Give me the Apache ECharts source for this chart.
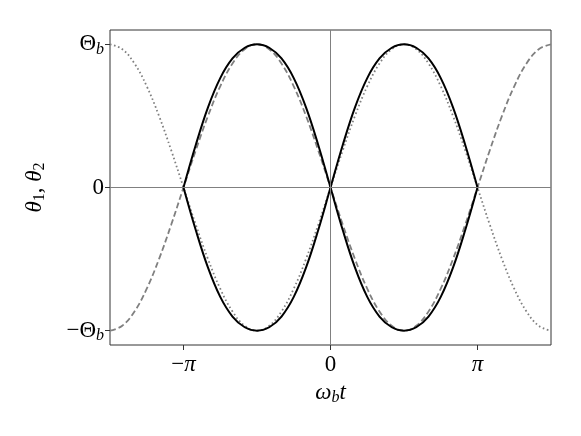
<!DOCTYPE html>
<html>
<head>
<meta charset="utf-8">
<script src="https://cdn.jsdelivr.net/npm/echarts@6/dist/echarts.min.js"></script>
<style>
  html, body { margin: 0; padding: 0; background: #fff; }
  #chart { width: 581px; height: 436px; }
</style>
</head>
<body>
<div id="chart"></div>
<script>
// phase in degrees, -3pi/2 .. 3pi/2, step pi/12
var phaseFull = [-270, -255, -240, -225, -210, -195, -180, -165, -150, -135, -120, -105, -90,
  -75, -60, -45, -30, -15, 0, 15, 30, 45, 60, 75, 90, 105, 120, 135, 150, 165, 180,
  195, 210, 225, 240, 255, 270];
// phase in degrees, -pi .. pi
var phaseInner = [-180, -165, -150, -135, -120, -105, -90, -75, -60, -45, -30, -15, 0,
  15, 30, 45, 60, 75, 90, 105, 120, 135, 150, 165, 180];

// grey dashed curve (in units of Theta_b)
var dashedVals = [-1, -0.966, -0.866, -0.707, -0.5, -0.259, 0, 0.259, 0.5, 0.707, 0.866, 0.966, 1,
  0.966, 0.866, 0.707, 0.5, 0.259, 0, -0.259, -0.5, -0.707, -0.866, -0.966, -1,
  -0.966, -0.866, -0.707, -0.5, -0.259, 0, 0.259, 0.5, 0.707, 0.866, 0.966, 1];
// grey dotted curve
var dottedVals = [1, 0.966, 0.866, 0.707, 0.5, 0.259, 0, -0.259, -0.5, -0.707, -0.866, -0.966, -1,
  -0.966, -0.866, -0.707, -0.5, -0.259, 0, 0.259, 0.5, 0.707, 0.866, 0.966, 1,
  0.966, 0.866, 0.707, 0.5, 0.259, 0, -0.259, -0.5, -0.707, -0.866, -0.966, -1];
// black solid curves, only between -pi and pi
var solidA = [0, -0.297, -0.56, -0.764, -0.901, -0.976, -1, -0.976, -0.901, -0.764, -0.56, -0.297, 0,
  0.297, 0.56, 0.764, 0.901, 0.976, 1, 0.976, 0.901, 0.764, 0.56, 0.297, 0];
var solidB = [0, 0.297, 0.56, 0.764, 0.901, 0.976, 1, 0.976, 0.901, 0.764, 0.56, 0.297, 0,
  -0.297, -0.56, -0.764, -0.901, -0.976, -1, -0.976, -0.901, -0.764, -0.56, -0.297, 0];

var xTicks = [-180, 0, 180];
var yTicks = [-1, 0, 1];

function pairs(xs, ys) {
  var out = [];
  for (var i = 0; i < xs.length; i++) out.push([xs[i], ys[i]]);
  return out;
}

var serif = '"Liberation Serif", "DejaVu Serif", serif';
var rich = {
  r: { fontFamily: serif, fontSize: 23, color: '#000' },
  i: { fontFamily: serif, fontSize: 23, fontStyle: 'italic', color: '#000' },
  s: { fontFamily: serif, fontSize: 16, fontStyle: 'italic', color: '#000', padding: [11, 0, 0, 0] },
  n: { fontFamily: serif, fontSize: 16, color: '#000', padding: [11, 0, 0, 0] }
};

var myChart = echarts.init(document.getElementById('chart'), null, { renderer: 'canvas' });

var option = {
  backgroundColor: '#fff',
  animation: false,
  grid: { left: 110, right: 30, top: 30, bottom: 91, show: true, borderColor: '#333', borderWidth: 1 },
  xAxis: {
    type: 'value', min: -270, max: 270,
    name: '{i|ω}{s|b}{i|t}', nameLocation: 'middle', nameGap: 34,
    nameTextStyle: { fontFamily: serif, fontSize: 23, rich: rich },
    axisLine: { show: false, onZero: false },
    axisTick: { show: true, length: 5, customValues: xTicks, lineStyle: { color: '#333' } },
    axisLabel: {
      customValues: xTicks, margin: 8, fontFamily: serif, fontSize: 23, rich: rich,
      formatter: function (v) {
        if (v < 0) return '{r|−}{i|π}';
        if (v > 0) return '{i|π}';
        return '{r|0}';
      }
    },
    splitLine: { show: false }
  },
  yAxis: {
    type: 'value', min: -1.1, max: 1.1,
    name: '{i|θ}{n|1}{r|, }{i|θ}{n|2}', nameLocation: 'middle', nameGap: 62, nameRotate: 90,
    nameTextStyle: { fontFamily: serif, fontSize: 23, rich: rich },
    axisLine: { show: false, onZero: false },
    axisTick: { show: true, length: 5, customValues: yTicks, lineStyle: { color: '#333' } },
    axisLabel: {
      customValues: yTicks, margin: 6, fontFamily: serif, fontSize: 23, rich: rich,
      formatter: function (v) {
        if (v > 0) return '{r|Θ}{s|b}';
        if (v < 0) return '{r|−Θ}{s|b}';
        return '{r|0}';
      }
    },
    splitLine: { show: false }
  },
  series: [
    {
      type: 'line', data: pairs(phaseFull, dashedVals), smooth: 0.4, symbol: 'none',
      lineStyle: { color: '#808080', width: 1.8, type: [6, 3] },
      markLine: {
        silent: true, symbol: 'none', label: { show: false },
        lineStyle: { color: '#808080', width: 1, type: 'solid' },
        data: [{ xAxis: 0 }, { yAxis: 0 }]
      }
    },
    {
      type: 'line', data: pairs(phaseFull, dottedVals), smooth: 0.4, symbol: 'none',
      lineStyle: { color: '#808080', width: 1.8, type: [1.6, 2.6] }
    },
    {
      type: 'line', data: pairs(phaseInner, solidA), smooth: 0.4, symbol: 'none',
      lineStyle: { color: '#000', width: 2 }
    },
    {
      type: 'line', data: pairs(phaseInner, solidB), smooth: 0.4, symbol: 'none',
      lineStyle: { color: '#000', width: 2 }
    }
  ]
};

myChart.setOption(option);
</script>
</body>
</html>
